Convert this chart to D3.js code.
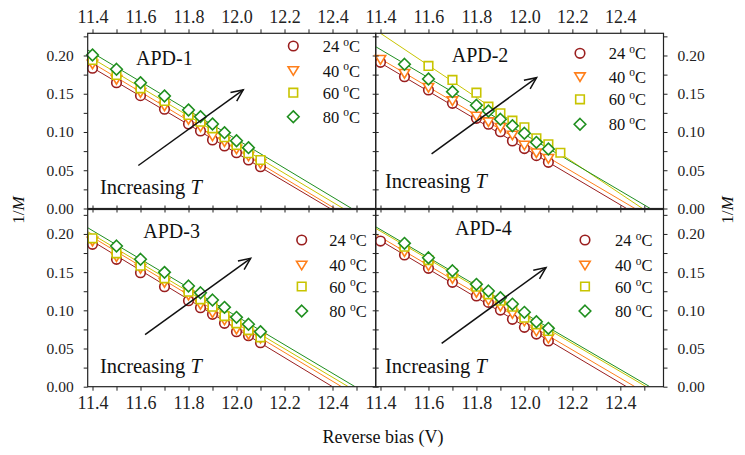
<!DOCTYPE html>
<html>
<head>
<meta charset="utf-8">
<script src="https://cdn.jsdelivr.net/npm/d3@7"></script>
<style>
  html, body { margin: 0; padding: 0; background: #fff; }
  svg { display: block; }
  svg text { font-family: "Liberation Serif", "Times New Roman", Times, "DejaVu Serif", serif; }
</style>
</head>
<body>
<svg id="chart" width="745" height="455"></svg>
<script>
// ---------------- data ----------------
const biasTicks = [11.4, 11.5, 11.6, 11.7, 11.8, 11.9, 12.0, 12.1, 12.2, 12.3, 12.4, 12.5];
const biasLabels = [11.4, 11.6, 11.8, 12.0, 12.2, 12.4];
const invMTicks = [0, 0.025, 0.05, 0.075, 0.10, 0.125, 0.15, 0.175, 0.20, 0.225];
const invMLabels = [0, 0.05, 0.10, 0.15, 0.20];
const temperatures = ["24", "40", "60", "80"];
const apdNames = ["APD-1", "APD-2", "APD-3", "APD-4"];
const bias = [11.4, 11.5, 11.6, 11.7, 11.8, 11.85, 11.9, 11.95, 12.0, 12.05, 12.1, 12.15];

// measured 1/M, one array per temperature (index matches bias), null = no point
const apd1 = [
  [0.1833,0.1644,0.1475,0.1297,0.1105,0.1013,0.0895,0.0817,0.0729,0.0634,0.0546,null],
  [0.1889,0.1689,0.1519,0.1340,0.1166,0.1069,0.0948,0.0873,0.0778,0.0686,0.0591,null],
  [0.1941,0.1745,0.1571,0.1405,0.1222,0.1135,0.1048,0.0931,0.0830,0.0722,0.0634,null],
  [0.2007,0.1820,0.1644,0.1471,0.1288,0.1200,0.1105,0.0991,0.0886,0.0795,null,null]
];
const apd2 = [
  [0.1911,0.1723,0.1549,0.1375,0.1179,0.1101,0.1004,0.0882,0.0783,0.0691,0.0604,null],
  [0.1950,0.1767,0.1584,0.1409,0.1209,0.1135,0.1061,0.0961,0.0830,0.0729,0.0656,null],
  [null,null,0.1863,0.1680,0.1514,0.1331,0.1244,0.1148,0.1061,0.0918,0.0839,0.0729],
  [null,0.1885,0.1693,0.1527,0.1349,0.1275,0.1166,0.1082,0.0983,0.0865,0.0778,null]
];
const apd3 = [
  [0.1864,0.1668,0.1492,0.1309,0.1126,0.1034,0.0948,0.0830,0.0720,0.0668,0.0576,null],
  [0.1907,0.1702,0.1550,0.1366,0.1200,0.1079,0.0969,0.0873,0.0755,0.0686,0.0634,null],
  [0.1942,0.1746,0.1584,0.1419,0.1243,0.1144,0.1047,0.0925,0.0830,0.0742,0.0647,null],
  [null,0.1842,0.1668,0.1497,0.1318,0.1230,0.1135,0.1039,0.0908,0.0817,0.0720,null]
];
const apd4 = [
  [0.1907,0.1724,0.1550,0.1366,0.1187,0.1104,0.1003,0.0882,0.0777,0.0689,0.0598,null],
  [null,0.1767,0.1584,0.1419,0.1236,0.1135,0.1056,0.0961,0.0860,0.0729,0.0634,null],
  [null,0.1832,0.1658,0.1484,0.1309,0.1209,0.1126,0.1047,0.0903,0.0817,0.0729,null],
  [null,0.1877,0.1688,0.1518,0.1340,0.1253,0.1165,0.1082,0.0974,0.0851,0.0764,null]
];
// linear fits: value at 11.4 V and zero-crossing voltage, per temperature
const fitAt114 = [
  [0.184, 0.190, 0.196, 0.2035],
  [0.1903, 0.1956, 0.229, 0.2078],
  [0.1904, 0.1957, 0.1992, 0.2044],
  [0.1913, 0.1958, 0.2036, 0.2057]
];
const fitZero = [
  [12.39, 12.41, 12.445, 12.48],
  [12.426, 12.461, 12.4925, 12.525],
  [12.40, 12.438, 12.466, 12.494],
  [12.426, 12.461, 12.508, 12.523]
];
// "Increasing T" arrows: [x1, y1, x2, y2] in data units
const arrows = [
  [11.591, 0.0562, 12.028, 0.155],
  [11.613, 0.0714, 12.051, 0.171],
  [11.619, 0.0683, 12.059, 0.168],
  [11.655, 0.0566, 12.090, 0.156]
];
const measured = [apd1, apd2, apd3, apd4];

// ---------------- layout ----------------
const SERIF = "'Liberation Serif', 'Times New Roman', Times, 'DejaVu Serif', serif";
const colors = ["#9a1e1e", "#ff7f1a", "#c8c400", "#1f8f1f"];
const shapes = ["circle", "triDown", "square", "diamond"];
const xDomain = [11.38, 12.58];
const colX = [[87.7, 375.7], [375.7, 663.5]];
const rowY = [[208.5, 33.3], [386.7, 209.5]];
const rowDom = [[0, 0.229], [0, 0.232]];
const legendPos = [
  {mx: 205.6, tx: 235, rows: [12.7, 37.2, 59.4, 83.4]},
  {mx: 204.3, tx: 233, rows: [20, 43.4, 66, 91]},
  {mx: 214,   tx: 241.6, rows: [30.5, 55.5, 77, 101.5]},
  {mx: 209.3, tx: 239.3, rows: [30.5, 55.5, 77, 101.5]}
];
const titlePos = [{x: 48.3, y: 31.7}, {x: 76, y: 28.4}, {x: 55.6, y: 28.8}, {x: 79.3, y: 25.5}];
const incPos = [{x: 12.3, y: 160.7}, {x: 9.3, y: 155}, {x: 12.3, y: 163.8}, {x: 9.3, y: 163.8}];

const svg = d3.select("#chart");
const defs = svg.append("defs");

function shapePath(kind) {
  switch (kind) {
    case "circle": return d3.symbol(d3.symbolCircle, 72)();
    case "square": return "M-4.3,-4.3H4.3V4.3H-4.3Z";
    case "diamond": return "M0,-5.8L5.8,0L0,5.8L-5.8,0Z";
    case "triDown": return "M-5.2,-3.8L5.2,-3.8L0,4.8Z";
  }
}

const fmtX = d => biasLabels.some(v => Math.abs(v - d) < 1e-6) ? d.toFixed(1) : "";
const fmtY = d => invMLabels.some(v => Math.abs(v - d) < 1e-6) ? d.toFixed(2) : "";

apdNames.forEach((name, p) => {
  const col = p % 2, row = Math.floor(p / 2);
  const x = d3.scaleLinear().domain(xDomain).range(colX[col]);
  const y = d3.scaleLinear().domain(rowDom[row]).range(rowY[row]);
  const x0 = colX[col][0], x1 = colX[col][1];
  const yb = rowY[row][0], yt = rowY[row][1];
  const g = svg.append("g").attr("font-family", SERIF);

  defs.append("clipPath").attr("id", "clip" + p)
    .append("rect").attr("x", x0).attr("y", yt).attr("width", x1 - x0).attr("height", yb - yt);

  // fit lines
  const lg = g.append("g").attr("clip-path", `url(#clip${p})`);
  temperatures.forEach((t, k) => {
    const a = fitAt114[p][k], z = fitZero[p][k];
    const xs = xDomain[0];
    const ys = a * (z - xs) / (z - 11.4);
    lg.append("line")
      .attr("x1", x(xs)).attr("y1", y(ys))
      .attr("x2", x(z)).attr("y2", y(0))
      .attr("stroke", colors[k]).attr("stroke-width", 1);
  });

  // markers
  temperatures.forEach((t, k) => {
    const pts = bias.map((b, i) => [b, measured[p][k][i]]).filter(d => d[1] != null);
    g.append("g").selectAll("path").data(pts).join("path")
      .attr("d", shapePath(shapes[k]))
      .attr("transform", d => `translate(${x(d[0])},${y(d[1])})`)
      .attr("fill", "#fff").attr("stroke", colors[k]).attr("stroke-width", 1.6);
  });

  // frame
  g.append("rect").attr("x", x0).attr("y", yt).attr("width", x1 - x0).attr("height", yb - yt)
    .attr("fill", "none").attr("stroke", "#222").attr("stroke-width", 1.2);

  // outer x axis
  const xa = (row === 0 ? d3.axisTop(x) : d3.axisBottom(x))
    .tickValues(biasTicks).tickFormat(fmtX).tickSize(4).tickSizeOuter(0).tickPadding(6);
  const xg = g.append("g").attr("transform", `translate(0,${row === 0 ? yt : yb})`).call(xa);
  // inner x ticks on the shared horizontal border
  const xi = (row === 0 ? d3.axisTop(x) : d3.axisBottom(x))
    .tickValues(biasTicks).tickFormat("").tickSize(3).tickSizeOuter(0);
  g.append("g").attr("transform", `translate(0,${row === 0 ? yb : yt})`).call(xi);

  // outer y axis
  const ya = (col === 0 ? d3.axisLeft(y) : d3.axisRight(y))
    .tickValues(invMTicks).tickFormat(fmtY).tickSize(4).tickSizeOuter(0).tickPadding(10);
  const yg = g.append("g").attr("transform", `translate(${col === 0 ? x0 : x1},0)`).call(ya);
  // inner y ticks on the shared vertical border
  const yi = (col === 0 ? d3.axisLeft(y) : d3.axisRight(y))
    .tickValues(invMTicks).tickFormat("").tickSize(3).tickSizeOuter(0);
  g.append("g").attr("transform", `translate(${col === 0 ? x1 : x0},0)`).call(yi);

  g.selectAll(".domain").remove();
  g.selectAll("g").attr("font-family", SERIF);
  g.selectAll(".tick line").attr("stroke", "#222");
  g.selectAll(".tick text").attr("fill", "#222").attr("font-family", SERIF);
  xg.selectAll(".tick text").attr("font-size", 18);
  xg.attr("font-size", 18);
  yg.selectAll(".tick text").attr("font-size", 15.5);
  yg.attr("font-size", 15.5);

  // title
  g.append("text").attr("x", x0 + titlePos[p].x).attr("y", yt + titlePos[p].y)
    .attr("font-size", 20).attr("fill", "#111").attr("font-family", SERIF).text(name);

  // legend
  const L = legendPos[p];
  temperatures.forEach((t, k) => {
    const cy = yt + L.rows[k];
    g.append("path").attr("d", shapePath(shapes[k]))
      .attr("transform", `translate(${x0 + L.mx},${cy})`)
      .attr("fill", "#fff").attr("stroke", colors[k]).attr("stroke-width", 1.6);
    const tx = g.append("text").attr("x", x0 + L.tx).attr("y", cy + 6)
      .attr("font-size", 16.5).attr("fill", "#111").attr("font-family", SERIF);
    tx.append("tspan").text(t + " ");
    tx.append("tspan").attr("font-size", 11.5).attr("dy", -6.5).text("o");
    tx.append("tspan").attr("dy", 6.5).text("C");
  });

  // increasing T
  const it = g.append("text").attr("x", x0 + incPos[p].x).attr("y", yt + incPos[p].y)
    .attr("font-size", 20.5).attr("fill", "#111").attr("font-family", SERIF);
  it.append("tspan").text("Increasing ");
  it.append("tspan").attr("font-style", "italic").text("T");

  // arrow
  const A = arrows[p];
  const ax1 = x(A[0]), ay1 = y(A[1]), ax2 = x(A[2]), ay2 = y(A[3]);
  g.append("line").attr("x1", ax1).attr("y1", ay1).attr("x2", ax2).attr("y2", ay2)
    .attr("stroke", "#111").attr("stroke-width", 1.5);
  const ang = Math.atan2(ay2 - ay1, ax2 - ax1);
  const hl = 13, ha = 0.42;
  const hp = [ang + Math.PI - ha, ang + Math.PI + ha].map(a => [ax2 + hl * Math.cos(a), ay2 + hl * Math.sin(a)]);
  g.append("path")
    .attr("d", `M${hp[0][0]},${hp[0][1]}L${ax2},${ay2}L${hp[1][0]},${hp[1][1]}`)
    .attr("fill", "none").attr("stroke", "#111").attr("stroke-width", 1.5);
});

// axis titles
svg.append("text").attr("x", 383).attr("y", 443).attr("text-anchor", "middle")
  .attr("font-family", SERIF).attr("font-size", 18).attr("fill", "#111").text("Reverse bias (V)");
[[24, 210], [733, 210]].forEach(([lx, ly]) => {
  const t = svg.append("text").attr("transform", `translate(${lx},${ly}) rotate(-90)`)
    .attr("text-anchor", "middle").attr("font-family", SERIF).attr("font-size", 17).attr("fill", "#111");
  t.append("tspan").text("1/");
  t.append("tspan").attr("font-style", "italic").text("M");
});
</script>
</body>
</html>
